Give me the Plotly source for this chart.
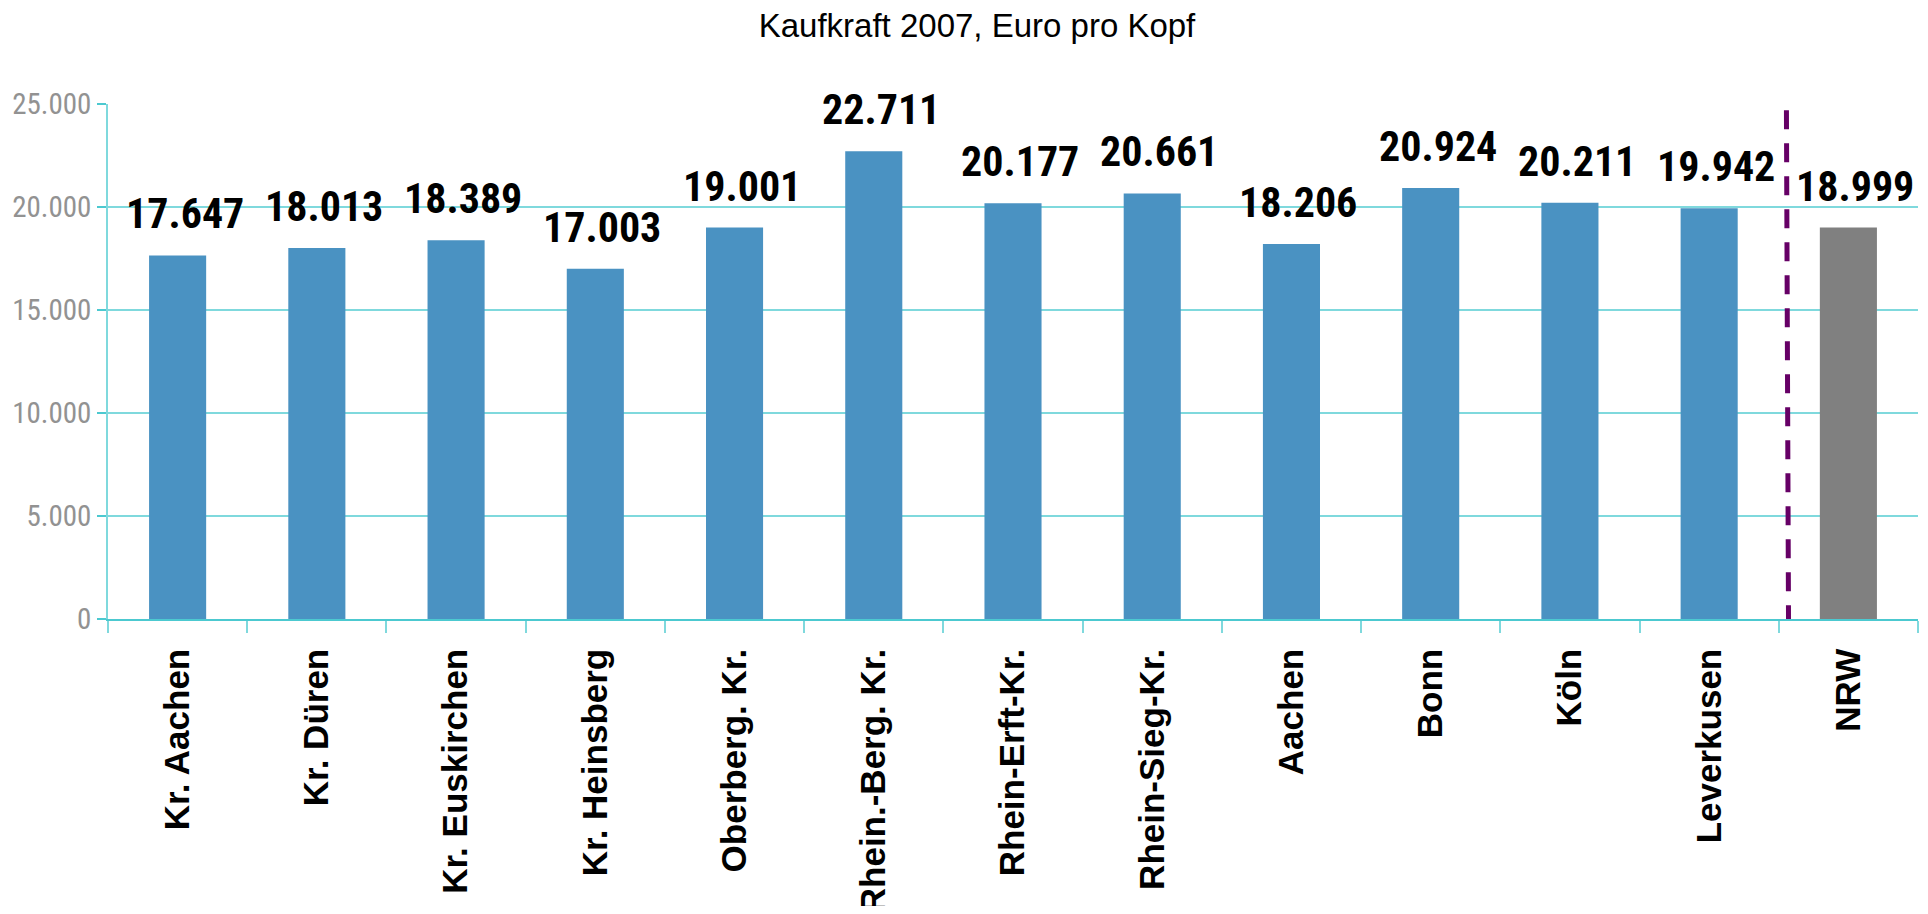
import plotly.graph_objects as go

categories = ["Kr. Aachen", "Kr. Düren", "Kr. Euskirchen", "Kr. Heinsberg", "Oberberg. Kr.",
              "Rhein.-Berg. Kr.", "Rhein-Erft-Kr.", "Rhein-Sieg-Kr.", "Aachen", "Bonn",
              "Köln", "Leverkusen", "NRW"]
values = [17647, 18013, 18389, 17003, 19001, 22711, 20177, 20661, 18206, 20924, 20211, 19942, 18999]
bar_colors = ["#4A92C2"] * 12 + ["#808080"]
y_tickvals = [0, 5000, 10000, 15000, 20000, 25000]

NARROW = "Liberation Sans Narrow, Arial Narrow, Roboto Condensed, Liberation Sans, sans-serif"
SANS = "Liberation Sans, Arial, sans-serif"

# page body has a default 8px margin, so the figure is sized to fit the 1928x914 window
W, H = 1912, 898

fig = go.Figure()
fig.add_trace(go.Bar(x=categories, y=values, marker=dict(color=bar_colors, line=dict(width=0)),
                     width=0.41, hoverinfo="x+y"))

for c, v in zip(categories, values):
    fig.add_annotation(x=c, y=v, text="<b>" + f"{v:,}".replace(",", ".") + "</b>",
                       showarrow=False, yanchor="bottom", yshift=15, xshift=7,
                       font=dict(family=NARROW, size=42, color="#000000"))

# dashed separator between the regions and NRW
fig.add_shape(type="line", xref="x", yref="y", x0=11.555, x1=11.57, y0=24700, y1=-150,
              line=dict(color="#660066", width=5, dash="19px,14px"))

fig.update_layout(
    width=W, height=H,
    paper_bgcolor="white", plot_bgcolor="white",
    margin=dict(l=100, r=2, t=96, b=287),
    separators=",.",
    showlegend=False,
    title=dict(text="Kaufkraft 2007, Euro pro Kopf", x=969 / W, xanchor="center",
               y=1 - 17 / H, yanchor="middle", yref="container",
               font=dict(family=SANS, size=33, color="#000000")),
    xaxis=dict(type="category", showgrid=False, showline=True, linecolor="#4CC9D0", linewidth=1.5,
               ticks="outside", tickson="boundaries", ticklen=12, tickcolor="#7FD9DD", tickwidth=1.5,
               tickangle=-90, ticklabelstandoff=14, automargin=False,
               tickfont=dict(family=SANS, size=35, color="#000000", weight="bold")),
    yaxis=dict(range=[0, 25000], tickvals=y_tickvals, tickformat=",d", automargin=False,
               showgrid=True, gridcolor="#7FD9DD", gridwidth=1.5,
               showline=True, linecolor="#7FD9DD", linewidth=1.5,
               ticks="outside", ticklen=9, tickcolor="#4CC9D0", tickwidth=1.5,
               zeroline=False,
               tickfont=dict(family=NARROW, size=29, color="#929292")),
)

fig.write_html("out.html")
